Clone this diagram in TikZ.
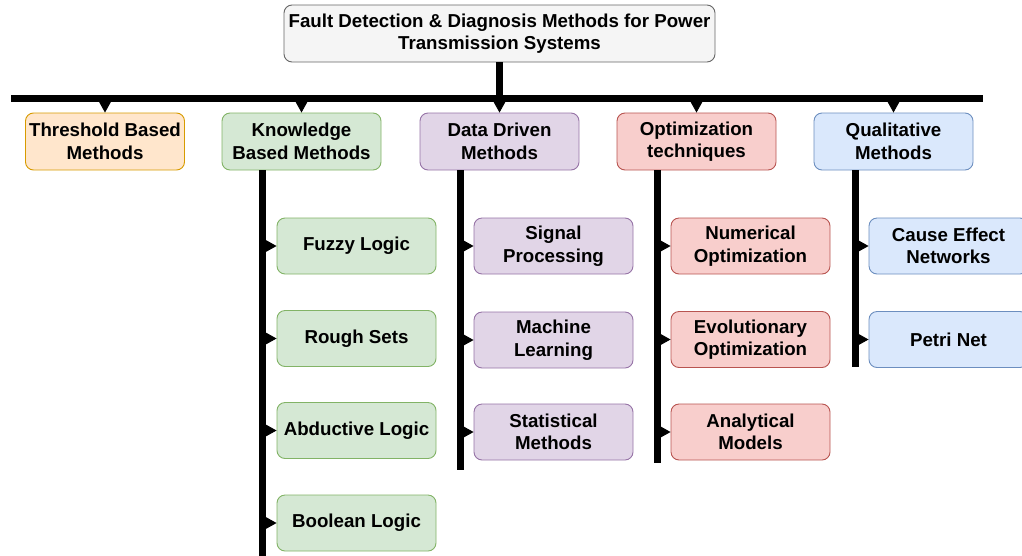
\documentclass[tikz,border=0pt]{standalone}
\usepackage{fontspec}
\setmainfont{Liberation Sans}
\usetikzlibrary{arrows.meta}

\definecolor{grayfill}{HTML}{F5F5F5}\definecolor{graydraw}{HTML}{666666}
\definecolor{orfill}{HTML}{FFE6CC}\definecolor{ordraw}{HTML}{D79B00}
\definecolor{grfill}{HTML}{D5E8D4}\definecolor{grdraw}{HTML}{82B366}
\definecolor{pufill}{HTML}{E1D5E7}\definecolor{pudraw}{HTML}{9673A6}
\definecolor{refill}{HTML}{F8CECC}\definecolor{redraw}{HTML}{B85450}
\definecolor{blfill}{HTML}{DAE8FC}\definecolor{bldraw}{HTML}{6C8EBF}

\tikzset{
  box/.style={draw, rounded corners=8pt, line width=0.9pt, minimum width=159pt,
    minimum height=56pt, inner sep=0pt, align=center,
    font=\fontsize{18.7}{22.5}\selectfont\bfseries},
  rootbox/.style={box, fill=grayfill, draw=graydraw, minimum width=431pt, minimum height=57pt},
  orbox/.style={box, fill=orfill, draw=ordraw, minimum height=57pt},
  grbox/.style={box, fill=grfill, draw=grdraw},
  pubox/.style={box, fill=pufill, draw=pudraw},
  rebox/.style={box, fill=refill, draw=redraw},
  blbox/.style={box, fill=blfill, draw=bldraw},
  thick bar/.style={line width=7pt, line cap=butt},
  feed/.style={line width=1pt, -{Triangle[length=11pt,width=12pt]}},
}

\begin{document}
\begin{tikzpicture}[x=1pt, y=-1pt]
\useasboundingbox (0,0) rectangle (1022,555);

% root and main bus
\node[rootbox] (root) at (499.5,33.5) {Fault Detection \& Diagnosis Methods for Power\\Transmission Systems};
\coordinate (busL) at (11,98);
\coordinate (busR) at (983,98);
\coordinate (busM) at (499.5,98);
\draw[thick bar] (busL) -- (busR);
\draw[thick bar] (root.south) -- (busM);

% first-level categories
\node[orbox, minimum height=57pt] (thr) at (105,141.5) {Threshold Based\\Methods};
\node[grbox, minimum height=57pt] (know) at (301.5,141.5) {Knowledge\\Based Methods};
\node[pubox, minimum height=57pt] (data) at (499.5,141.5) {Data Driven\\Methods};
\node[rebox, minimum height=57pt] (opt) at (696.5,141.5) {Optimization\\techniques};
\node[blbox, minimum height=57pt] (qual) at (893.5,141.5) {Qualitative\\Methods};

\foreach \n in {thr,know,data,opt,qual}{
  \coordinate (tap-\n) at (\n.north |- 0,101.5);
  \draw[feed] (tap-\n) -- (\n.north);
}

% second-level methods
\node[grbox] (fuzzy) at (356.5,246) {Fuzzy Logic};
\node[grbox] (rough) at (356.5,338.5) {Rough Sets};
\node[grbox] (abd) at (356.5,430.5) {Abductive Logic};
\node[grbox] (bool) at (356.5,523) {Boolean Logic};

\node[pubox] (sig) at (553.5,246) {Signal\\Processing};
\node[pubox] (ml) at (553.5,340) {Machine\\Learning};
\node[pubox] (stat) at (553.5,432) {Statistical\\Methods};

\node[rebox] (num) at (750.5,246) {Numerical\\Optimization};
\node[rebox] (evo) at (750.5,339.5) {Evolutionary\\Optimization};
\node[rebox] (ana) at (750.5,432) {Analytical\\Models};

\node[blbox] (cause) at (948.5,246) {Cause Effect\\Networks};
\node[blbox] (petri) at (948.5,339.5) {Petri Net};

% vertical trunks
\coordinate (kTop) at (262,170); \coordinate (kEnd) at (262,560);
\coordinate (dTop) at (460,170); \coordinate (dEnd) at (460,470);
\coordinate (oTop) at (657,170); \coordinate (oEnd) at (657,463);
\coordinate (qTop) at (855,170); \coordinate (qEnd) at (855,367);
\draw[thick bar] (kTop) -- (kEnd);
\draw[thick bar] (dTop) -- (dEnd);
\draw[thick bar] (oTop) -- (oEnd);
\draw[thick bar] (qTop) -- (qEnd);

% branch taps
\foreach \n in {fuzzy,rough,abd,bool}{
  \coordinate (br-\n) at (265.5,0 |- \n.west);
  \draw[feed] (br-\n) -- (\n.west);
}
\foreach \n in {sig,ml,stat}{
  \coordinate (br-\n) at (463.5,0 |- \n.west);
  \draw[feed] (br-\n) -- (\n.west);
}
\foreach \n in {num,evo,ana}{
  \coordinate (br-\n) at (660.5,0 |- \n.west);
  \draw[feed] (br-\n) -- (\n.west);
}
\foreach \n in {cause,petri}{
  \coordinate (br-\n) at (858.5,0 |- \n.west);
  \draw[feed] (br-\n) -- (\n.west);
}
\end{tikzpicture}
\end{document}
